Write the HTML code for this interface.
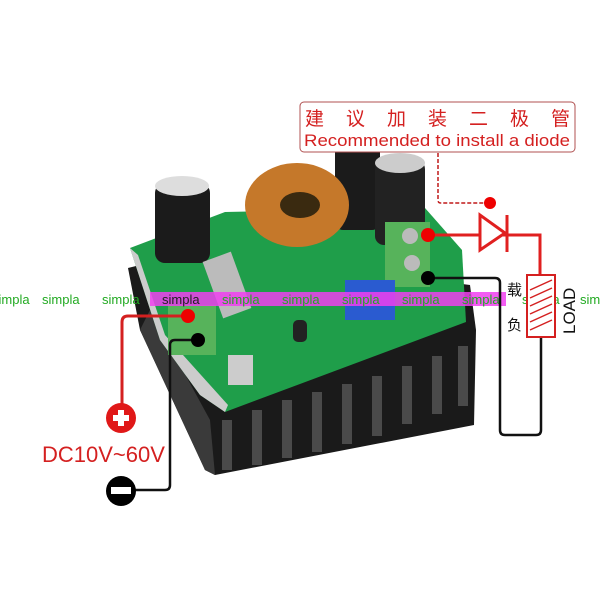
<!DOCTYPE html>
<html><head><meta charset="utf-8"><style>
html,body{margin:0;padding:0;background:#fff}
svg{display:block}
</style></head><body>
<svg width="600" height="600" viewBox="0 0 600 600" xmlns="http://www.w3.org/2000/svg" font-family="Liberation Sans, Noto Sans CJK SC, sans-serif">
<rect width="600" height="600" fill="#fff"/>
<polygon points="128,268 200,250 470,285 476,330 474,425 215,475 205,470 140,330" fill="#1a1a1a"/>
<polygon points="140,330 205,470 215,475 210,420 150,310" fill="#3a3a3a"/>
<g fill="#4a4a4a">
<rect x="222" y="420" width="10" height="50"/><rect x="252" y="410" width="10" height="55"/><rect x="282" y="400" width="10" height="58"/><rect x="312" y="392" width="10" height="60"/><rect x="342" y="384" width="10" height="60"/><rect x="372" y="376" width="10" height="60"/><rect x="402" y="366" width="10" height="58"/><rect x="432" y="356" width="10" height="58"/><rect x="458" y="346" width="10" height="60"/>
</g>
<polygon points="130,248 225,212 425,208 462,250 466,322 225,412 200,395 160,340" fill="#1f9e4a"/>
<polygon points="130,248 160,340 200,395 225,412 228,405 165,335 138,255" fill="#ccc"/>
<rect x="155" y="183" width="55" height="80" rx="10" fill="#1b1b1b"/>
<ellipse cx="182" cy="186" rx="27" ry="10" fill="#ddd"/>
<rect x="335" y="120" width="45" height="110" rx="8" fill="#1b1b1b"/>
<rect x="375" y="160" width="50" height="85" rx="9" fill="#222"/>
<ellipse cx="400" cy="163" rx="25" ry="10" fill="#ccc"/>
<ellipse cx="297" cy="205" rx="52" ry="42" fill="#c5782a"/>
<ellipse cx="300" cy="205" rx="20" ry="13" fill="#3a2a10"/>
<rect x="212" y="255" width="30" height="60" fill="#bbb" transform="rotate(-20 227 285)"/>
<rect x="385" y="222" width="45" height="65" fill="#57b35b"/>
<circle cx="410" cy="236" r="8" fill="#bbb"/><circle cx="412" cy="263" r="8" fill="#bbb"/>
<rect x="168" y="305" width="48" height="50" fill="#57b35b"/>
<rect x="228" y="355" width="25" height="30" fill="#ccc"/>
<rect x="345" y="280" width="50" height="40" fill="#2a5bd0"/>
<rect x="293" y="320" width="14" height="22" rx="5" fill="#222"/>
<rect x="150" y="292" width="356" height="14" fill="#f040f0" opacity="0.85"/>
<g font-size="13" fill="#22aa22">
<text x="-8" y="304">simpla</text><text x="42" y="304">simpla</text><text x="102" y="304">simpla</text><text x="162" y="304" fill="#222">simpla</text><text x="222" y="304">simpla</text><text x="282" y="304">simpla</text><text x="342" y="304">simpla</text><text x="402" y="304">simpla</text><text x="462" y="304">simpla</text><text x="522" y="304">simpla</text><text x="580" y="304">simpla</text>
</g>
<rect x="300" y="102" width="275" height="50" rx="4" fill="#fff" stroke="#b05050" stroke-width="1"/>
<text x="305" y="125" font-size="19" fill="#d42020" textLength="265" lengthAdjust="spacing">建 议 加 装 二 极 管</text>
<text x="304" y="146" font-size="17" fill="#d42020" textLength="266" lengthAdjust="spacingAndGlyphs">Recommended to install a diode</text>
<path d="M438,153 V200 Q438,203 441,203 H490" fill="none" stroke="#c01818" stroke-width="1.5" stroke-dasharray="4,2"/>
<circle cx="490" cy="203" r="6" fill="#e00"/>
<path d="M428,235 H540 V275" fill="none" stroke="#e02020" stroke-width="3"/>
<polygon points="480,215 480,250 505,233" fill="#fff" stroke="#e02020" stroke-width="3"/>
<line x1="507" y1="215" x2="507" y2="252" stroke="#e02020" stroke-width="3"/>
<circle cx="428" cy="235" r="7" fill="#e00"/>
<path d="M428,278 H495 Q500,278 500,283 V430 Q500,435 505,435 H536 Q541,435 541,430 V335" fill="none" stroke="#111" stroke-width="2.5"/>
<circle cx="428" cy="278" r="7" fill="#000"/>
<rect x="527" y="275" width="28" height="62" fill="#fff" stroke="#d42020" stroke-width="2"/>
<g stroke="#d42020" stroke-width="1.5"><line x1="530" y1="290" x2="552" y2="280"/><line x1="530" y1="298" x2="552" y2="288"/><line x1="530" y1="306" x2="552" y2="296"/><line x1="530" y1="314" x2="552" y2="304"/><line x1="530" y1="322" x2="552" y2="312"/><line x1="530" y1="330" x2="552" y2="320"/></g>
<text x="0" y="0" font-size="17" fill="#111" transform="translate(575,334) rotate(-90)">LOAD</text>
<text x="507" y="295" font-size="15" fill="#111">载</text>
<text x="507" y="330" font-size="15" fill="#111">负</text>
<path d="M188,316 H128 Q122,316 122,322 V405" fill="none" stroke="#d42020" stroke-width="3"/>
<circle cx="188" cy="316" r="7" fill="#e00"/>
<circle cx="121" cy="418" r="15" fill="#e01818"/>
<rect x="113" y="415" width="16" height="6" fill="#fff"/><rect x="118" y="410" width="6" height="16" fill="#fff"/>
<path d="M198,340 H175 Q170,340 170,345 V485 Q170,490 165,490 H135" fill="none" stroke="#111" stroke-width="2.5"/>
<circle cx="198" cy="340" r="7" fill="#000"/>
<circle cx="121" cy="491" r="15" fill="#000"/>
<rect x="111" y="487" width="20" height="7" fill="#fff"/>
<text x="42" y="462" font-size="22" fill="#d42020">DC10V~60V</text>
</svg>
</body></html>
